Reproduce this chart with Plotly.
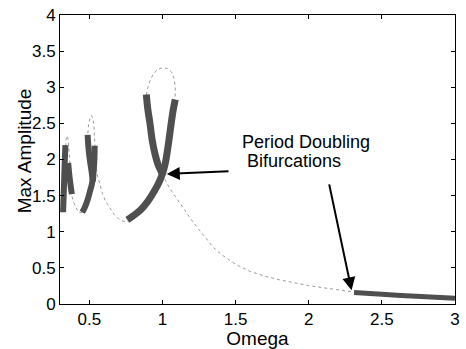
import plotly.graph_objects as go

# Period-1 response (thin dotted curve)
thin_x = [0.32, 0.325, 0.33, 0.335, 0.338, 0.342, 0.348, 0.354, 0.359, 0.363, 0.367, 0.372, 0.377, 0.382,
          0.39, 0.40, 0.41, 0.42, 0.43, 0.44, 0.45,
          0.46, 0.48, 0.50, 0.515, 0.523, 0.51, 0.495, 0.49, 0.495, 0.505, 0.515, 0.525, 0.532, 0.536,
          0.538, 0.542, 0.548, 0.557, 0.57, 0.59, 0.61, 0.64, 0.67, 0.70, 0.73, 0.755, 0.775,
          0.82, 0.87, 0.92, 0.96, 1.0, 1.03, 1.055, 1.075, 1.087, 1.088, 1.08, 1.062, 1.035, 1.0,
          0.97, 0.94, 0.915, 0.898, 0.89, 0.90, 0.915, 0.93, 0.95, 0.97, 0.99, 1.0,
          1.02, 1.05, 1.1, 1.15, 1.2, 1.25, 1.3, 1.35, 1.4, 1.5, 1.6, 1.7, 1.8, 1.9, 2.0, 2.1,
          2.2, 2.31, 2.5, 2.7, 2.9, 3.0]
thin_y = [1.27, 1.5, 1.8, 2.05, 2.2, 2.29, 2.33, 2.3, 2.2, 2.05, 1.9, 1.75, 1.6, 1.5,
          1.42, 1.37, 1.32, 1.29, 1.265, 1.26, 1.265,
          1.3, 1.4, 1.52, 1.63, 1.72, 1.95, 2.2, 2.34, 2.48, 2.58, 2.61, 2.57, 2.45, 2.3,
          2.15, 2.0, 1.88, 1.77, 1.67, 1.53, 1.43, 1.33, 1.24, 1.18, 1.145, 1.14, 1.16,
          1.24, 1.34, 1.48, 1.62, 1.80, 2.05, 2.4, 2.7, 2.85, 3.0, 3.12, 3.21, 3.26, 3.27,
          3.25, 3.19, 3.09, 2.98, 2.89, 2.7, 2.5, 2.27, 2.07, 1.93, 1.84, 1.80,
          1.71, 1.6, 1.45, 1.3, 1.16, 1.03, 0.9, 0.78, 0.69, 0.55, 0.45, 0.385, 0.335, 0.29, 0.255, 0.225,
          0.195, 0.165, 0.135, 0.11, 0.09, 0.08]

# Period-doubled branches (thick bands)
pd1a_x = [0.321, 0.325, 0.329, 0.333, 0.337]
pd1a_y = [1.27, 1.5, 1.75, 2.0, 2.2]
pd1b_x = [0.356, 0.363, 0.372, 0.381]
pd1b_y = [1.95, 1.8, 1.65, 1.52]
pd2a_x = [0.452, 0.47, 0.49, 0.505, 0.518, 0.525]
pd2a_y = [1.27, 1.34, 1.45, 1.56, 1.66, 1.75]
pd2b_x = [0.489, 0.495, 0.505, 0.515, 0.523]
pd2b_y = [2.34, 2.15, 1.98, 1.85, 1.72]
pd2c_x = [0.537, 0.535, 0.53, 0.525]
pd2c_y = [2.19, 2.0, 1.85, 1.7]
pd3a_x = [0.76, 0.8, 0.85, 0.9, 0.95, 0.98, 1.0, 1.02, 1.04, 1.06, 1.075, 1.088]
pd3a_y = [1.165, 1.22, 1.3, 1.42, 1.58, 1.7, 1.8, 1.95, 2.2, 2.5, 2.7, 2.83]
pd3b_x = [0.89, 0.9, 0.915, 0.93, 0.95, 0.97, 0.99, 1.005]
pd3b_y = [2.9, 2.7, 2.5, 2.27, 2.07, 1.93, 1.84, 1.78]
pd4_x = [2.31, 2.5, 2.7, 2.9, 3.0]
pd4_y = [0.16, 0.135, 0.11, 0.09, 0.08]

x_ticks = [0.5, 1, 1.5, 2, 2.5, 3]
y_ticks = [0, 0.5, 1, 1.5, 2, 2.5, 3, 3.5, 4]

FONT = "Liberation Sans, Arial, sans-serif"
BAND = "#4f4f4f"

fig = go.Figure()
fig.add_trace(go.Scatter(x=thin_x, y=thin_y, mode="lines",
                         line=dict(color="#9a9a9a", width=1, dash="dot"), hoverinfo="skip"))
bands = [(pd1a_x, pd1a_y, 6), (pd1b_x, pd1b_y, 6), (pd2a_x, pd2a_y, 6), (pd2b_x, pd2b_y, 6),
         (pd2c_x, pd2c_y, 6), (pd3a_x, pd3a_y, 7), (pd3b_x, pd3b_y, 7), (pd4_x, pd4_y, 5)]
for bx, by, w in bands:
    fig.add_trace(go.Scatter(x=bx, y=by, mode="lines", line=dict(color=BAND, width=w, shape="spline"),
                             hoverinfo="skip"))

# arrows
arrows = [((1.462, 1.838), (1.03, 1.80)), ((2.138, 1.676), (2.293, 0.19))]
for (tx, ty), (hx, hy) in arrows:
    fig.add_annotation(x=hx, y=hy, ax=tx, ay=ty, xref="x", yref="y", axref="x", ayref="y",
                       text="", showarrow=True, arrowhead=2, arrowsize=1.3, arrowwidth=2,
                       arrowcolor="black")
fig.add_annotation(x=1.53, y=2.243, xref="x", yref="y", text="Period Doubling", showarrow=False,
                   xanchor="left", yanchor="middle", font=dict(family=FONT, size=18, color="black"))
fig.add_annotation(x=1.564, y=1.986, xref="x", yref="y", text="Bifurcations", showarrow=False,
                   xanchor="left", yanchor="middle", font=dict(family=FONT, size=18, color="black"))
# y-axis title
fig.add_annotation(x=-0.09, y=0.53, xref="paper", yref="paper", text="Max Amplitude", showarrow=False,
                   textangle=-90, xanchor="center", yanchor="middle",
                   font=dict(family=FONT, size=19, color="black"))

axis_common = dict(showline=True, linecolor="black", linewidth=1, mirror="ticks", ticks="inside",
                   ticklen=4, tickcolor="black", showgrid=False, zeroline=False,
                   tickfont=dict(family=FONT, size=17, color="black"))
fig.update_xaxes(range=[0.3, 3], tickvals=x_ticks, ticktext=[str(v) for v in x_ticks],
                 title=dict(text="Omega", font=dict(family=FONT, size=19, color="black"), standoff=0),
                 **axis_common)
fig.update_yaxes(range=[0, 4], tickvals=y_ticks, ticktext=[f"{v:g}" for v in y_ticks],
                 **axis_common)
fig.update_layout(width=466, height=349, margin=dict(l=60, r=6, t=10, b=43),
                  paper_bgcolor="white", plot_bgcolor="white", showlegend=False)
fig.write_html("out.html")
